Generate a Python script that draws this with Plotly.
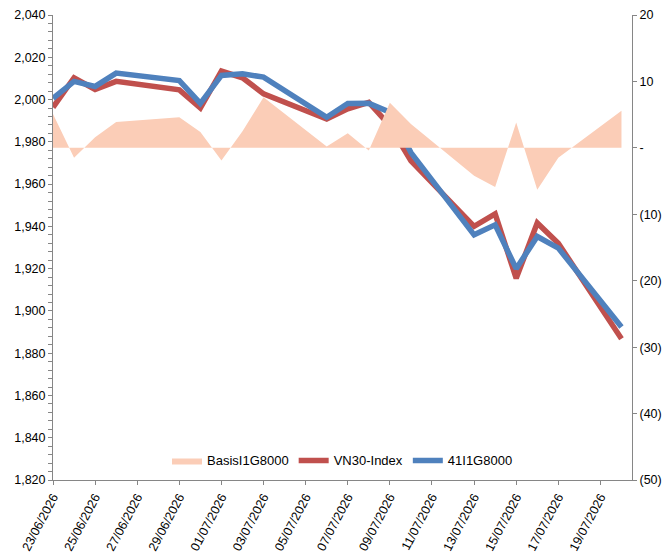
import plotly.graph_objects as go

dates = ["2026-06-23", "2026-06-24", "2026-06-25", "2026-06-26", "2026-06-29",
         "2026-06-30", "2026-07-01", "2026-07-02", "2026-07-03", "2026-07-06",
         "2026-07-07", "2026-07-08", "2026-07-09", "2026-07-10", "2026-07-13",
         "2026-07-14", "2026-07-15", "2026-07-16", "2026-07-17", "2026-07-20"]

futures_41I1G8000 = [2000.6, 2008.6, 2006.2, 2012.5, 2009.0, 1998.2, 2011.4, 2012.2,
                     2010.6, 1991.6, 1998.1, 1998.2, 1994.0, 1974.9, 1936.0, 1940.7,
                     1920.0, 1935.2, 1929.7, 1892.4]

vn30_index = [1996.3, 2010.3, 2004.8, 2008.6, 2004.6, 1996.0, 2013.5, 2010.3,
              2002.7, 1990.8, 1995.6, 1998.7, 1987.6, 1971.0, 1940.0, 1945.9,
              1915.4, 1941.6, 1932.0, 1886.8]

basis = [5.1, -1.5, 1.6, 3.9, 4.6, 2.4, -1.9, 2.5, 7.6, 0.2, 2.2, -0.4, 6.8, 3.6,
         -4.2, -5.9, 3.8, -6.3, -1.5, 5.6]

left_ticks = list(range(1820, 2041, 20))
right_tickvals = [20, 10, 0, -10, -20, -30, -40, -50]
right_ticktext = ["20", "10", "-", "(10)", "(20)", "(30)", "(40)", "(50)"]

FONT = "Liberation Sans, Arial, sans-serif"
AXIS_COLOR = "#868686"

fig = go.Figure()

fig.add_trace(go.Scatter(
    x=dates, y=basis, name="BasisI1G8000", yaxis="y2",
    mode="lines", line=dict(width=0, color="#FBCDB7"),
    fill="tozeroy", fillcolor="#FBCDB7",
))
fig.add_trace(go.Scatter(
    x=dates, y=vn30_index, name="VN30-Index",
    mode="lines", line=dict(width=5.5, color="#C0504D"),
))
fig.add_trace(go.Scatter(
    x=dates, y=futures_41I1G8000, name="41I1G8000",
    mode="lines", line=dict(width=5.5, color="#4F81BD"),
))

fig.update_layout(
    width=672, height=555,
    margin=dict(l=53, r=40, t=15, b=75),
    paper_bgcolor="white", plot_bgcolor="white",
    font=dict(family=FONT, size=12, color="black"),
    showlegend=True,
    legend=dict(orientation="h", x=0.5, xanchor="center", y=0.042, yanchor="middle",
                font=dict(size=13, color="black"), bgcolor="rgba(0,0,0,0)",
                traceorder="normal", itemwidth=30),
    xaxis=dict(
        type="date", range=["2026-06-23", "2026-07-20 12:00"],
        tick0="2026-06-23", dtick=2 * 86400000, tickformat="%d/%m/%Y",
        tickangle=-62, showgrid=False, zeroline=False, automargin=False,
        showline=True, linecolor=AXIS_COLOR, linewidth=1,
        ticks="outside", ticklen=4, tickcolor=AXIS_COLOR,
        tickfont=dict(size=12.5),
    ),
    yaxis=dict(
        range=[1820, 2040], tickvals=left_ticks, tickformat=",d",
        showgrid=False, zeroline=False, automargin=False,
        showline=True, linecolor=AXIS_COLOR, linewidth=1,
        ticks="outside", ticklen=4, tickcolor=AXIS_COLOR,
        minor=dict(dtick=4, ticks="outside", ticklen=4, tickcolor=AXIS_COLOR, showgrid=False),
        tickfont=dict(size=12.5),
    ),
    yaxis2=dict(
        range=[-50, 20], overlaying="y", side="right",
        tickvals=right_tickvals, ticktext=right_ticktext,
        showgrid=False, zeroline=False, automargin=False,
        showline=True, linecolor=AXIS_COLOR, linewidth=1,
        ticks="outside", ticklen=4, tickcolor=AXIS_COLOR,
        tickfont=dict(size=12.5),
    ),
)

fig.write_html("out.html")
